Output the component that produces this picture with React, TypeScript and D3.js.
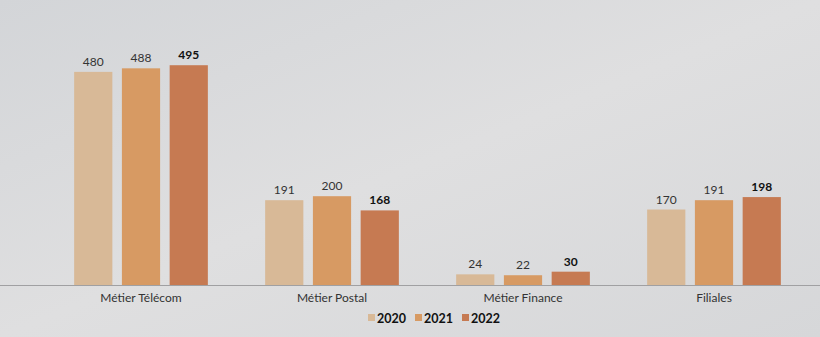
import React from "react";
import * as d3 from "d3";

const categories = ["Métier Télécom", "Métier Postal", "Métier Finance", "Filiales"];
const years = ["2020", "2021", "2022"];
const values2020 = [480, 191, 24, 170];
const values2021 = [488, 200, 22, 191];
const values2022 = [495, 168, 30, 198];
const colors = ["#d8b997", "#d79a63", "#c67a52"];

const W = 820;
const H = 337;

export default function App() {
  const series = [values2020, values2021, values2022];
  const baseY = 285;
  const x0 = d3.scaleBand<string>().domain(categories).range([45.5, 809.5]).paddingInner(0.3).paddingOuter(0.15);
  const x1 = d3.scaleBand<string>().domain(years).range([0, x0.bandwidth()]).paddingInner(0.2);
  const y = d3.scaleLinear().domain([0, 500]).range([baseY, baseY - 222]);
  const font = "Lato, 'Open Sans', sans-serif";
  const legendX = d3.scalePoint<string>().domain(years).range([368, 462]);

  return (
    <svg width={W} height={H} style={{ position: "absolute", left: 0, top: 0 }} fontFamily={font}>
      <defs>
        <linearGradient id="bg" x1="0" y1="0" x2="1" y2="1">
          <stop offset="0" stopColor="#d3d5d8" />
          <stop offset="0.5" stopColor="#dfdfe0" />
          <stop offset="1" stopColor="#d6d7d9" />
        </linearGradient>
      </defs>
      <rect x={0} y={0} width={W} height={H} fill="url(#bg)" />
      <line x1={0} x2={W} y1={baseY + 0.5} y2={baseY + 0.5} stroke="#a0a0a2" strokeWidth={1} />
      {categories.map((c, ci) => (
        <g key={c} transform={`translate(${x0(c)},0)`}>
          {years.map((yr, yi) => {
            const v = series[yi][ci];
            const bx = x1(yr)!;
            return (
              <g key={yr}>
                <rect x={bx} y={y(v)} width={x1.bandwidth()} height={baseY - y(v)} fill={colors[yi]} />
                <text
                  x={bx + x1.bandwidth() / 2}
                  y={y(v) - 6}
                  textAnchor="middle"
                  fontSize={12}
                  fontWeight={yi === 2 ? 700 : 400}
                  fill={yi === 2 ? "#111" : "#333"}
                >
                  {v}
                </text>
              </g>
            );
          })}
          <text x={x0.bandwidth() / 2} y={baseY + 17} textAnchor="middle" fontSize={12} fill="#333">
            {c}
          </text>
        </g>
      ))}
      {years.map((yr, yi) => (
        <g key={yr} transform={`translate(${legendX(yr)},318)`}>
          <rect x={0} y={-4} width={7} height={7} fill={colors[yi]} />
          <text x={9} y={4.5} fontSize={12.5} fontWeight={700} fill="#111">
            {yr}
          </text>
        </g>
      ))}
    </svg>
  );
}
